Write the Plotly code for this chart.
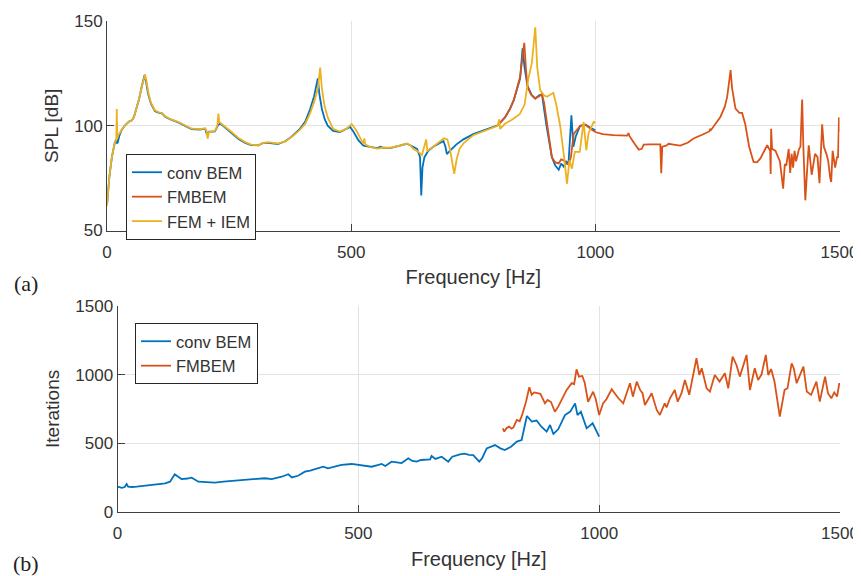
import plotly.graph_objects as go

# ---------------- (a) SPL data ----------------
conv_f = [0, 5, 10, 16, 19, 20, 22, 25, 30, 37, 45, 51, 55, 60, 66, 71, 75, 77, 80, 84, 90, 98, 105, 112, 119,
          130, 146, 160, 173, 190, 201, 204, 206, 209, 215, 221, 228, 232, 240, 255, 270, 283, 295, 310, 320, 330,
          340, 350, 365, 378, 395, 406, 416, 424, 431.7, 435, 440, 446, 452, 463, 477, 490, 498, 505, 515, 525,
          540, 553, 560, 565, 580, 600, 614, 627, 635, 641, 643.5, 646, 650, 658, 668, 680, 689, 693, 696, 702,
          715, 730, 750, 770, 785, 800, 815, 825, 833, 846, 851, 855, 861, 870, 877, 885, 890.7, 900, 911, 918,
          925, 930, 935, 940, 945, 951, 955, 960, 969, 980, 990, 1000]
conv_spl = [62, 76, 85, 92, 93.5, 91.6, 92, 95, 98, 100.2, 102, 102.6, 104, 108, 113, 118.6, 123, 124.2, 121, 115.4,
            110.5, 107, 106.3, 106, 104.3, 103, 101.6, 99.8, 98.4, 98.2, 98.6, 96.2, 96.5, 97.2, 97.2, 97.3, 100.5,
            101, 99.5, 96.5, 93.5, 91.8, 90.8, 90.7, 91.8, 91.8, 91.6, 91.3, 92.6, 94.8, 98.5, 102, 108, 114, 122.6,
            115, 108, 103, 100, 97.5, 97, 98.5, 99.4, 97, 93, 90.5, 89.7, 89.3, 90, 89.5, 89.3, 90.5, 91.4, 90, 89,
            85, 66.7, 80, 85, 88, 90, 91.5, 92.7, 90, 86.5, 88, 91, 93.5, 96, 97.7, 99, 100.2, 104, 108, 112.2,
            122.5, 137, 128, 119, 114.5, 113, 114.5, 115, 100, 85, 81, 79, 82, 80.5, 83, 82, 105, 90, 95, 100,
            100.5, 99, 97.8]

fmbem_f = [800, 815, 825, 833, 846, 850, 854.5, 858, 861, 868, 877, 884, 890.7, 895, 903, 911, 918, 925, 930, 935,
           940, 945, 950, 955.6, 962, 969, 980, 990, 1000, 1015, 1037, 1065, 1068, 1070, 1080, 1089, 1095, 1099,
           1110, 1133, 1135, 1137, 1145, 1150, 1160, 1174, 1190, 1201, 1220, 1234, 1235, 1237, 1256, 1265, 1270,
           1274, 1277, 1280, 1287, 1295, 1300.6, 1307, 1315, 1324, 1331, 1338, 1352, 1358, 1359, 1360, 1362, 1369,
           1378, 1384.6, 1388, 1391, 1396, 1399, 1402, 1405, 1408, 1411, 1417, 1420, 1423.5, 1426, 1430, 1434,
           1437, 1443, 1450, 1455, 1459, 1464.5, 1468, 1474, 1477, 1481, 1483, 1486, 1491, 1495, 1497, 1499, 1500]
fmbem_spl = [100.2, 104, 108, 112.2, 123.4, 130, 139.6, 127, 118.6, 115, 113, 114, 115, 111, 97, 85, 82.5, 82, 84,
             83.5, 82, 81.5, 85, 96, 98, 100, 100.5, 98.5, 97, 96, 95.5, 95.3, 96.5, 95, 91.5, 88.6, 89, 91, 91.1,
             91.1, 77.4, 90, 90.5, 91.4, 91, 90.5, 92, 93.9, 95.8, 97.4, 98.5, 98, 104.2, 109, 113.8, 120, 126.6,
             118, 108.2, 106.2, 106.1, 100.7, 90, 82.7, 82.5, 84.4, 90.7, 88, 77, 98.6, 89, 88, 83, 70, 81.7, 81,
             88.9, 77.5, 86.6, 80, 88, 83, 88.9, 90, 112.5, 90, 64.4, 80, 90.7, 76.6, 86.6, 85, 72.6, 100.7, 90, 86,
             83, 75, 73.2, 88, 80, 85, 85, 104, 97]

fem_f = [0, 5, 10, 16, 19, 20, 21, 23, 30, 37, 45, 51, 55, 60, 66, 71, 76, 78, 81, 85, 90, 98, 105, 112, 119, 130,
         146, 160, 173, 190, 201, 204, 206, 209, 215, 221, 226, 228, 230, 240, 255, 270, 283, 295, 310, 320, 330,
         340, 350, 365, 378, 395, 406, 416, 425, 432, 436.5, 440, 445, 452, 463, 477, 490, 501, 510, 520, 525, 527,
         529, 540, 553, 565, 580, 600, 614, 622, 627, 638, 645, 653.6, 656, 668, 680, 690, 697, 703, 711, 716, 722,
         730, 750, 770, 785, 800, 803, 805, 815, 830, 845, 855, 863, 870, 877, 881, 887, 895, 901, 908, 914, 920,
         928, 936, 942, 947, 952, 958, 968, 976, 981.5, 986, 996.6, 1000]
fem_spl = [62, 76, 85, 92, 93, 108, 94, 95.5, 98, 100.2, 102, 102.6, 104, 108, 113, 118.6, 123, 124.5, 121, 115.4,
           111, 107.4, 106.5, 106.1, 104.5, 103.2, 101.8, 100, 98.6, 98.4, 98.8, 97.5, 93.8, 97, 97.4, 97.5, 100,
           105.8, 101.8, 100, 97, 94, 92.2, 91, 90.7, 91.8, 92.2, 91.8, 91.5, 92.5, 94.6, 98, 101, 106, 112, 118,
           127.8, 118, 110, 104, 98.5, 97.2, 98.5, 100.8, 98, 93.5, 91.5, 94, 91, 89.8, 89.1, 89.5, 89.5, 90.5, 91.5,
           90.5, 89, 87.5, 86, 93.5, 88, 90, 92, 94, 93.5, 88, 77.1, 84, 89, 91.6, 95.5, 97.3, 98.6, 100, 103, 98.5,
           101, 103, 105.5, 110, 122.6, 130, 147, 128, 117, 114.5, 113.8, 115, 115.7, 110, 100, 85, 72.3, 83.5,
           79.5, 87.5, 87.5, 101.8, 88.3, 96.3, 101.8, 101.5]

# ---------------- (b) Iterations data ----------------
conv_it_f = [0, 5, 9, 15, 19, 22, 30, 40, 50, 60, 75, 90, 99, 109, 115, 119, 126, 133, 145, 154, 168, 185, 202, 220,
             237, 255, 271.5, 290, 306, 320, 341, 354.6, 362, 375, 389, 400, 410, 427, 437, 450, 465, 486, 500, 515,
             527.7, 540, 548.5, 556, 569, 580, 590, 603.7, 612, 621, 630, 649, 652, 660, 673, 686.7, 695, 711, 720,
             730, 738.6, 751, 757, 766.5, 783.7, 795, 804, 817, 829, 839, 850, 860, 870, 880, 891, 898, 905, 915,
             929, 940, 950, 955, 962, 974, 986.5, 1000]
conv_it = [182, 176, 174, 180, 202, 182, 180, 183, 187, 196, 198, 203, 207, 219, 250, 273, 255, 238, 242, 248, 219,
           214, 212, 220, 224, 232, 236, 240, 244, 238, 255, 273, 250, 262, 292, 300, 309, 328, 316, 330, 341, 348,
           341, 338, 328, 340, 348, 333, 365, 360, 355, 389, 370, 365, 377, 382, 406, 385, 401, 365, 401, 418, 423,
           415, 413, 365, 390, 462, 486, 462, 450, 474, 511, 523, 698, 657, 665, 620, 584, 632, 567, 601, 705, 730,
           790, 705, 730, 608, 645, 547]

fmbem_it_f = [800, 803, 808, 813, 818, 822, 829, 835, 840, 848, 855, 860, 865, 870, 878, 887.5, 893, 900, 908, 915,
              925, 932.5, 943, 948, 953, 958, 965, 970, 977, 987.5, 993, 1000, 1008, 1015, 1026, 1035, 1040, 1050,
              1064, 1070, 1078, 1085, 1090, 1095, 1109, 1119.5, 1126, 1136, 1140, 1147, 1157, 1163, 1171, 1178, 1187,
              1202, 1208, 1213, 1223, 1230, 1240, 1250, 1261, 1268, 1277, 1285, 1292, 1306, 1313, 1323, 1330, 1337,
              1346, 1351, 1357, 1364, 1375, 1385, 1391, 1399.6, 1404, 1410, 1424, 1431, 1440, 1451, 1458, 1469, 1475,
              1482, 1488, 1494, 1498.6, 1500]
fmbem_it = [608, 584, 610, 620, 605, 615, 669, 660, 705, 800, 907, 852, 870, 868, 860, 790, 815, 800, 729, 766, 830,
            888, 937, 930, 1038, 985, 990, 940, 802, 875, 820, 705, 790, 820, 893, 850, 827, 790, 937, 839, 948, 888,
            864, 778, 864, 742, 705, 790, 760, 827, 888, 802, 864, 961, 852, 1119, 997, 1046, 900, 876, 997, 949,
            1010, 900, 1131, 1070, 985, 1143, 888, 1046, 961, 1000, 1143, 997, 1040, 949, 693, 888, 900, 1082, 1046,
            937, 1058, 876, 852, 949, 803, 985, 864, 827, 870, 840, 937, 924]

x_ticks = [0, 500, 1000, 1500]
spl_ticks = [50, 100, 150]
it_ticks = [0, 500, 1000, 1500]

BLUE = "#0072BD"
ORANGE = "#D95319"
YELLOW = "#EDB120"
TXT = "#333333"
FONT = "Liberation Sans, Arial, Helvetica, sans-serif"
LW = 1.8

fig = go.Figure()
fig.add_trace(go.Scatter(x=conv_f, y=conv_spl, mode="lines", name="conv BEM",
                         line=dict(color=BLUE, width=LW), xaxis="x", yaxis="y", legend="legend"))
fig.add_trace(go.Scatter(x=fmbem_f, y=fmbem_spl, mode="lines", name="FMBEM",
                         line=dict(color=ORANGE, width=LW), xaxis="x", yaxis="y", legend="legend"))
fig.add_trace(go.Scatter(x=fem_f, y=fem_spl, mode="lines", name="FEM + IEM",
                         line=dict(color=YELLOW, width=LW), xaxis="x", yaxis="y", legend="legend"))
fig.add_trace(go.Scatter(x=conv_it_f, y=conv_it, mode="lines", name="conv BEM",
                         line=dict(color=BLUE, width=LW), xaxis="x2", yaxis="y2", legend="legend2"))
fig.add_trace(go.Scatter(x=fmbem_it_f, y=fmbem_it, mode="lines", name="FMBEM",
                         line=dict(color=ORANGE, width=LW), xaxis="x2", yaxis="y2", legend="legend2"))

# page body has an 8px margin; the figure is sized to fit the window
OFF = 8
W, H = 853, 568
def px_x(p):
    return (p - OFF) / W
def px_y(p):
    return 1 - (p - OFF) / H

axis_common = dict(showgrid=True, gridcolor="#e3e3e3", gridwidth=1, zeroline=False,
                   showline=True, linecolor="#404040", linewidth=1, ticks="inside", ticklen=7,
                   tickcolor="#404040", tickfont=dict(family=FONT, size=17, color=TXT),
                   mirror=False, automargin=False)

fig.update_layout(
    width=W, height=H,
    margin=dict(l=0, r=0, t=0, b=0, autoexpand=False),
    paper_bgcolor="white", plot_bgcolor="white",
    font=dict(family=FONT, color=TXT),
    xaxis=dict(domain=[px_x(107), px_x(839.5)], range=[0, 1500], tickvals=x_ticks, anchor="y",
               title=dict(text="Frequency [Hz]", font=dict(family=FONT, size=20, color=TXT), standoff=9),
               ticklabelstandoff=6, **axis_common),
    yaxis=dict(domain=[px_y(230.5), px_y(21)], range=[50, 150], tickvals=spl_ticks, anchor="x",
               title=dict(text="SPL [dB]", font=dict(family=FONT, size=19, color=TXT), standoff=10),
               **axis_common),
    xaxis2=dict(domain=[px_x(117.5), px_x(840)], range=[0, 1500], tickvals=x_ticks, anchor="y2",
                title=dict(text="Frequency [Hz]", font=dict(family=FONT, size=20, color=TXT), standoff=9),
                ticklabelstandoff=6, **axis_common),
    yaxis2=dict(domain=[px_y(511.7), px_y(306)], range=[0, 1500], tickvals=it_ticks, anchor="x2",
                title=dict(text="Iterations", font=dict(family=FONT, size=19, color=TXT), standoff=10),
                **axis_common),
    legend=dict(x=px_x(126), y=px_y(154), xanchor="left", yanchor="top",
                bgcolor="white", bordercolor="#262626", borderwidth=1,
                font=dict(family=FONT, size=16.5, color=TXT), tracegroupgap=0),
    legend2=dict(x=px_x(135), y=px_y(323), xanchor="left", yanchor="top",
                 bgcolor="white", bordercolor="#262626", borderwidth=1,
                 font=dict(family=FONT, size=16.5, color=TXT), tracegroupgap=0),
    showlegend=True,
    annotations=[
        dict(text="(a)", x=px_x(26), y=px_y(283), xref="paper", yref="paper", showarrow=False,
             xanchor="center", yanchor="middle",
             font=dict(family="Liberation Serif, DejaVu Serif, serif", size=22, color="#222222")),
        dict(text="(b)", x=px_x(26), y=px_y(563), xref="paper", yref="paper", showarrow=False,
             xanchor="center", yanchor="middle",
             font=dict(family="Liberation Serif, DejaVu Serif, serif", size=22, color="#222222")),
    ],
)

fig.write_html("out.html")
